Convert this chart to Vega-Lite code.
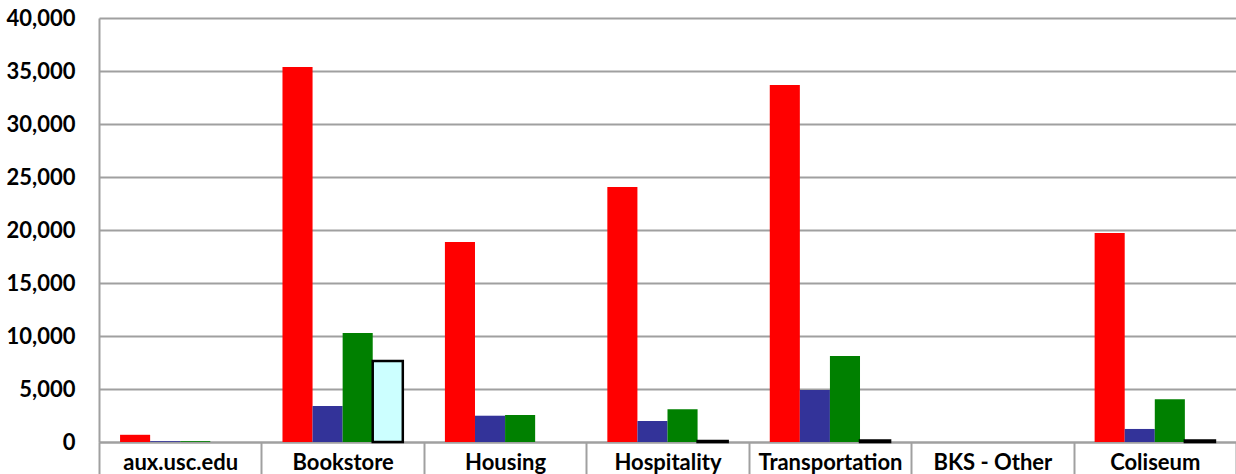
{
  "$schema": "https://vega.github.io/schema/vega-lite/v6.json",
  "width": 1137,
  "height": 424,
  "autosize": "none",
  "padding": {"left": 99, "top": 18, "right": 0, "bottom": 32},
  "background": "white",
  "config": {"view": {"stroke": null}},
  "data": {
    "values": [
      {"unit": "aux.usc.edu", "series": "S1", "value": 680},
      {"unit": "aux.usc.edu", "series": "S2", "value": 80},
      {"unit": "aux.usc.edu", "series": "S3", "value": 80},
      {"unit": "aux.usc.edu", "series": "S4", "value": 0},
      {"unit": "Bookstore", "series": "S1", "value": 35380},
      {"unit": "Bookstore", "series": "S2", "value": 3400},
      {"unit": "Bookstore", "series": "S3", "value": 10280},
      {"unit": "Bookstore", "series": "S4", "value": 7650},
      {"unit": "Housing", "series": "S1", "value": 18870},
      {"unit": "Housing", "series": "S2", "value": 2480},
      {"unit": "Housing", "series": "S3", "value": 2550},
      {"unit": "Housing", "series": "S4", "value": 0},
      {"unit": "Hospitality", "series": "S1", "value": 24060},
      {"unit": "Hospitality", "series": "S2", "value": 1980},
      {"unit": "Hospitality", "series": "S3", "value": 3080},
      {"unit": "Hospitality", "series": "S4", "value": 100},
      {"unit": "Transportation", "series": "S1", "value": 33680},
      {"unit": "Transportation", "series": "S2", "value": 4900},
      {"unit": "Transportation", "series": "S3", "value": 8110},
      {"unit": "Transportation", "series": "S4", "value": 150},
      {"unit": "BKS - Other", "series": "S1", "value": 0},
      {"unit": "BKS - Other", "series": "S2", "value": 0},
      {"unit": "BKS - Other", "series": "S3", "value": 0},
      {"unit": "BKS - Other", "series": "S4", "value": 0},
      {"unit": "Coliseum", "series": "S1", "value": 19720},
      {"unit": "Coliseum", "series": "S2", "value": 1230},
      {"unit": "Coliseum", "series": "S3", "value": 4030},
      {"unit": "Coliseum", "series": "S4", "value": 150}
    ]
  },
  "mark": {"type": "bar", "stroke": "#000000"},
  "encoding": {
    "x": {
      "field": "unit",
      "type": "nominal",
      "sort": null,
      "title": null,
      "scale": {"paddingInner": 0, "paddingOuter": 0},
      "axis": {
        "labelAngle": 0,
        "labelFont": "Lato",
        "labelFontWeight": "bold",
        "labelFontSize": 22,
        "labelColor": "#000000",
        "labelBaseline": "middle",
        "labelPadding": -12,
        "tickBand": "extent",
        "tickSize": 32,
        "tickWidth": 2,
        "tickColor": "#A0A0A0",
        "domainColor": "#A0A0A0",
        "domainWidth": 2,
        "grid": false
      }
    },
    "xOffset": {
      "field": "series",
      "type": "nominal",
      "scale": {"paddingInner": 0, "paddingOuter": 0.7}
    },
    "y": {
      "field": "value",
      "type": "quantitative",
      "title": null,
      "scale": {"domain": [0, 40000], "nice": false},
      "axis": {
        "values": [0, 5000, 10000, 15000, 20000, 25000, 30000, 35000, 40000],
        "format": ",d",
        "labelFont": "Lato",
        "labelFontWeight": "bold",
        "labelFontSize": 22,
        "labelColor": "#000000",
        "labelPadding": 24,
        "ticks": false,
        "grid": true,
        "gridColor": "#A0A0A0",
        "gridWidth": 2,
        "domainColor": "#A0A0A0",
        "domainWidth": 2
      }
    },
    "color": {
      "field": "series",
      "type": "nominal",
      "legend": null,
      "scale": {"domain": ["S1", "S2", "S3", "S4"], "range": ["#FF0000", "#333399", "#008000", "#CCFFFF"]}
    },
    "strokeWidth": {
      "condition": {"test": "datum.series === 'S4' && datum.value > 0", "value": 2.5},
      "value": 0
    }
  }
}
